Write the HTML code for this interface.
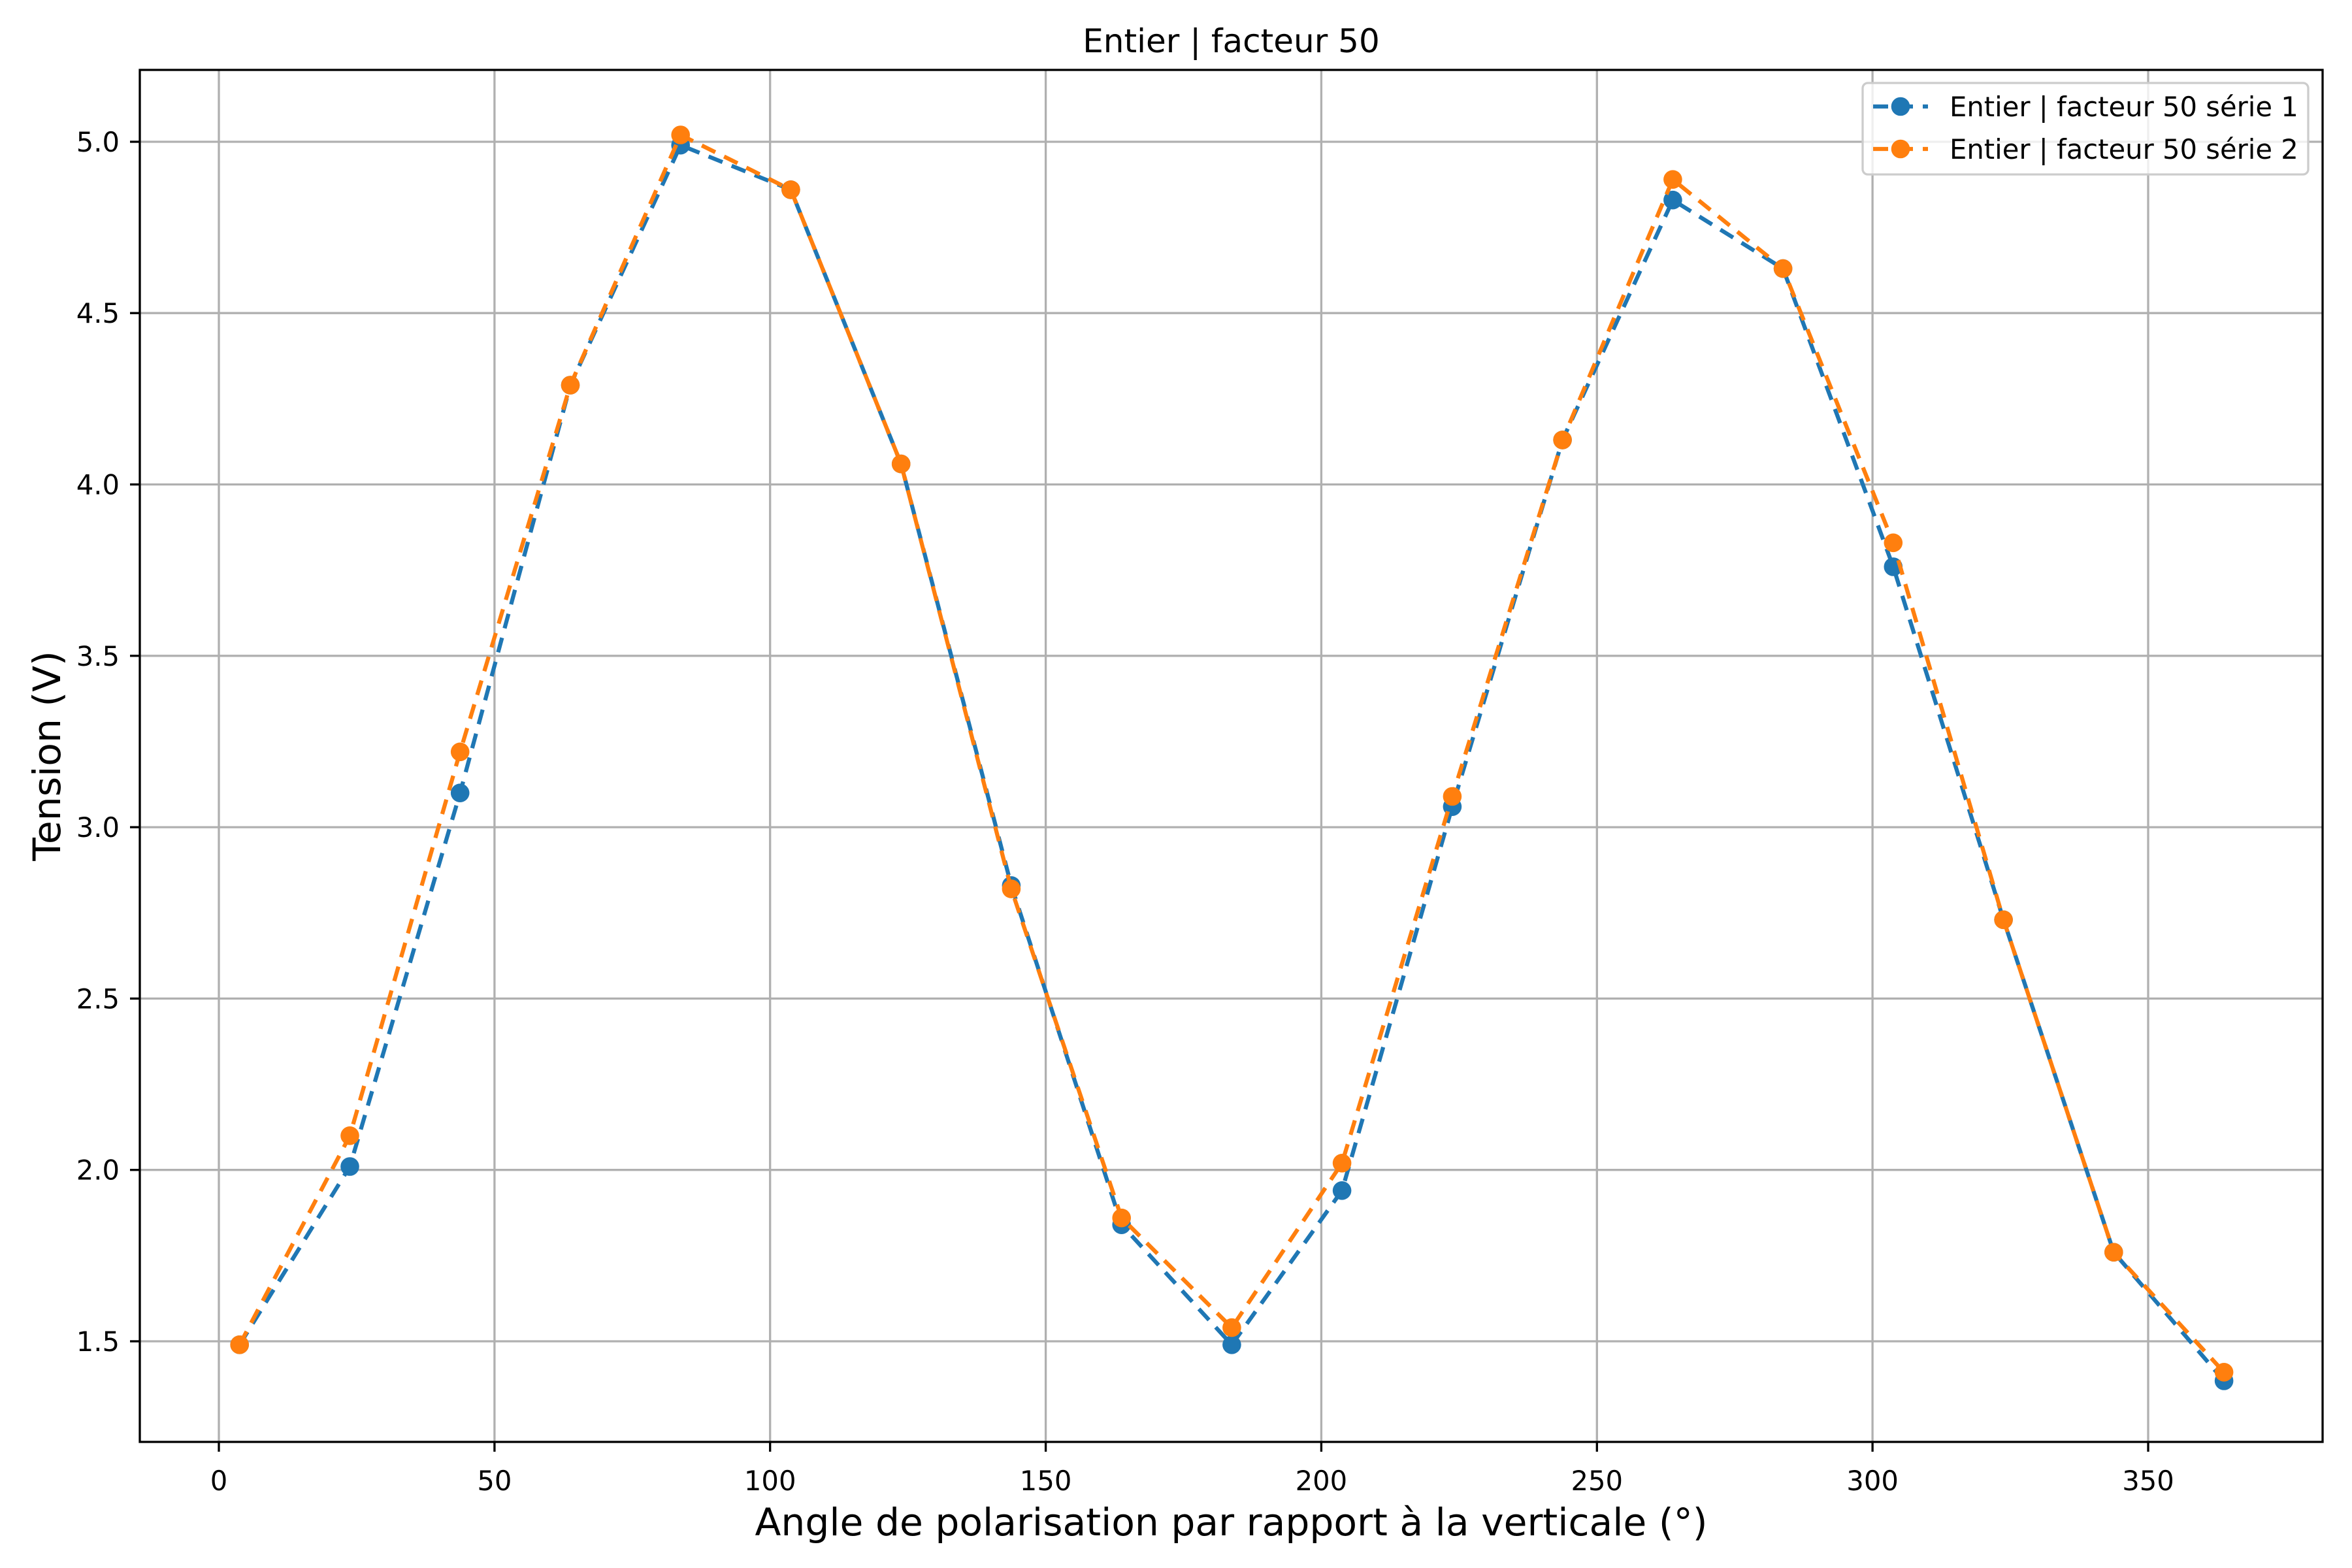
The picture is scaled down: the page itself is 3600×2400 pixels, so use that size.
<!DOCTYPE html>
<html><head><meta charset="utf-8"><style>html,body{margin:0;padding:0;background:#fff}svg{display:block}</style></head>
<body>
<svg width="3600" height="2400" viewBox="0 0 3600 2400" xmlns="http://www.w3.org/2000/svg" font-family="'DejaVu Sans','Liberation Sans',sans-serif">
<rect width="3600" height="2400" fill="#fff"/>
<g stroke="#b0b0b0" stroke-width="3.3">
<line x1="335" y1="107" x2="335" y2="2207"/><line x1="756.9" y1="107" x2="756.9" y2="2207"/><line x1="1178.7" y1="107" x2="1178.7" y2="2207"/><line x1="1600.6" y1="107" x2="1600.6" y2="2207"/><line x1="2022.4" y1="107" x2="2022.4" y2="2207"/><line x1="2444.3" y1="107" x2="2444.3" y2="2207"/><line x1="2866.1" y1="107" x2="2866.1" y2="2207"/><line x1="3288" y1="107" x2="3288" y2="2207"/>
<line x1="214" y1="2053" x2="3555" y2="2053"/><line x1="214" y1="1790.7" x2="3555" y2="1790.7"/><line x1="214" y1="1528.4" x2="3555" y2="1528.4"/><line x1="214" y1="1266.1" x2="3555" y2="1266.1"/><line x1="214" y1="1003.8" x2="3555" y2="1003.8"/><line x1="214" y1="741.5" x2="3555" y2="741.5"/><line x1="214" y1="479.2" x2="3555" y2="479.2"/><line x1="214" y1="217" x2="3555" y2="217"/>
</g>
<g transform="translate(-2,0)">
<polyline fill="none" stroke="#1f77b4" stroke-width="6.25" stroke-dasharray="23 15" points="368.7,2058.3 537.5,1785.5 706.2,1213.7 875,589.5 1043.7,222.2 1212.4,290.4 1381.2,710.1 1549.9,1355.4 1718.7,1874.7 1887.4,2058.3 2056.1,1822.3 2224.9,1234.7 2393.6,673.4 2562.4,306.2 2731.1,411.1 2899.8,867.5 3068.6,1407.8 3237.3,1916.7 3406.1,2113.5"/>
<g fill="#1f77b4">
<circle cx="368.7" cy="2058.3" r="14.3"/><circle cx="537.5" cy="1785.5" r="14.3"/><circle cx="706.2" cy="1213.7" r="14.3"/><circle cx="875" cy="589.5" r="14.3"/><circle cx="1043.7" cy="222.2" r="14.3"/><circle cx="1212.4" cy="290.4" r="14.3"/><circle cx="1381.2" cy="710.1" r="14.3"/><circle cx="1549.9" cy="1355.4" r="14.3"/><circle cx="1718.7" cy="1874.7" r="14.3"/><circle cx="1887.4" cy="2058.3" r="14.3"/><circle cx="2056.1" cy="1822.3" r="14.3"/><circle cx="2224.9" cy="1234.7" r="14.3"/><circle cx="2393.6" cy="673.4" r="14.3"/><circle cx="2562.4" cy="306.2" r="14.3"/><circle cx="2731.1" cy="411.1" r="14.3"/><circle cx="2899.8" cy="867.5" r="14.3"/><circle cx="3068.6" cy="1407.8" r="14.3"/><circle cx="3237.3" cy="1916.7" r="14.3"/><circle cx="3406.1" cy="2113.5" r="14.3"/>
</g>
<polyline fill="none" stroke="#ff7f0e" stroke-width="6.25" stroke-dasharray="23 15" points="368.7,2058.3 537.5,1738.3 706.2,1150.8 875,589.5 1043.7,206.5 1212.4,290.4 1381.2,710.1 1549.9,1360.6 1718.7,1864.2 1887.4,2032.1 2056.1,1780.3 2224.9,1219 2393.6,673.4 2562.4,274.7 2731.1,411.1 2899.8,830.8 3068.6,1407.8 3237.3,1916.7 3406.1,2100.3"/>
<g fill="#ff7f0e">
<circle cx="368.7" cy="2058.3" r="14.3"/><circle cx="537.5" cy="1738.3" r="14.3"/><circle cx="706.2" cy="1150.8" r="14.3"/><circle cx="875" cy="589.5" r="14.3"/><circle cx="1043.7" cy="206.5" r="14.3"/><circle cx="1212.4" cy="290.4" r="14.3"/><circle cx="1381.2" cy="710.1" r="14.3"/><circle cx="1549.9" cy="1360.6" r="14.3"/><circle cx="1718.7" cy="1864.2" r="14.3"/><circle cx="1887.4" cy="2032.1" r="14.3"/><circle cx="2056.1" cy="1780.3" r="14.3"/><circle cx="2224.9" cy="1219" r="14.3"/><circle cx="2393.6" cy="673.4" r="14.3"/><circle cx="2562.4" cy="274.7" r="14.3"/><circle cx="2731.1" cy="411.1" r="14.3"/><circle cx="2899.8" cy="830.8" r="14.3"/><circle cx="3068.6" cy="1407.8" r="14.3"/><circle cx="3237.3" cy="1916.7" r="14.3"/><circle cx="3406.1" cy="2100.3" r="14.3"/>
</g>
</g>
<rect x="214" y="107" width="3341" height="2100" fill="none" stroke="#000" stroke-width="3.3"/>
<g stroke="#000" stroke-width="3.3">
<line x1="335" y1="2207" x2="335" y2="2222"/><line x1="756.9" y1="2207" x2="756.9" y2="2222"/><line x1="1178.7" y1="2207" x2="1178.7" y2="2222"/><line x1="1600.6" y1="2207" x2="1600.6" y2="2222"/><line x1="2022.4" y1="2207" x2="2022.4" y2="2222"/><line x1="2444.3" y1="2207" x2="2444.3" y2="2222"/><line x1="2866.1" y1="2207" x2="2866.1" y2="2222"/><line x1="3288" y1="2207" x2="3288" y2="2222"/>
<line x1="199" y1="2053" x2="214" y2="2053"/><line x1="199" y1="1790.7" x2="214" y2="1790.7"/><line x1="199" y1="1528.4" x2="214" y2="1528.4"/><line x1="199" y1="1266.1" x2="214" y2="1266.1"/><line x1="199" y1="1003.8" x2="214" y2="1003.8"/><line x1="199" y1="741.5" x2="214" y2="741.5"/><line x1="199" y1="479.2" x2="214" y2="479.2"/><line x1="199" y1="217" x2="214" y2="217"/>
</g>
<g font-size="41.7" fill="#000" text-anchor="middle">
<text x="335" y="2281">0</text><text x="756.9" y="2281">50</text><text x="1178.7" y="2281">100</text><text x="1600.6" y="2281">150</text><text x="2022.4" y="2281">200</text><text x="2444.3" y="2281">250</text><text x="2866.1" y="2281">300</text><text x="3288" y="2281">350</text>
</g>
<g font-size="41.7" fill="#000" text-anchor="end">
<text x="183" y="2068">1.5</text><text x="183" y="1805.7">2.0</text><text x="183" y="1543.4">2.5</text><text x="183" y="1281.1">3.0</text><text x="183" y="1018.8">3.5</text><text x="183" y="756.5">4.0</text><text x="183" y="494.2">4.5</text><text x="183" y="232">5.0</text>
</g>
<text x="1884.5" y="80" font-size="50" text-anchor="middle">Entier | facteur 50</text>
<text x="1884.5" y="2350" font-size="58.3" text-anchor="middle">Angle de polarisation par rapport à la verticale (°)</text>
<text transform="translate(92,1157) rotate(-90)" font-size="58.3" text-anchor="middle">Tension (V)</text>
<rect x="2851" y="127" width="682" height="140" rx="8" fill="#fff" fill-opacity="0.8" stroke="#cccccc" stroke-width="3.3"/>
<line x1="2867" y1="163" x2="2951" y2="163" stroke="#1f77b4" stroke-width="6.25" stroke-dasharray="23 15"/>
<circle cx="2909" cy="163" r="14.3" fill="#1f77b4"/>
<line x1="2867" y1="228" x2="2951" y2="228" stroke="#ff7f0e" stroke-width="6.25" stroke-dasharray="23 15"/>
<circle cx="2909" cy="228" r="14.3" fill="#ff7f0e"/>
<text x="2984" y="178" font-size="41.7">Entier | facteur 50 série 1</text>
<text x="2984" y="243" font-size="41.7">Entier | facteur 50 série 2</text>
</svg>
</body></html>
